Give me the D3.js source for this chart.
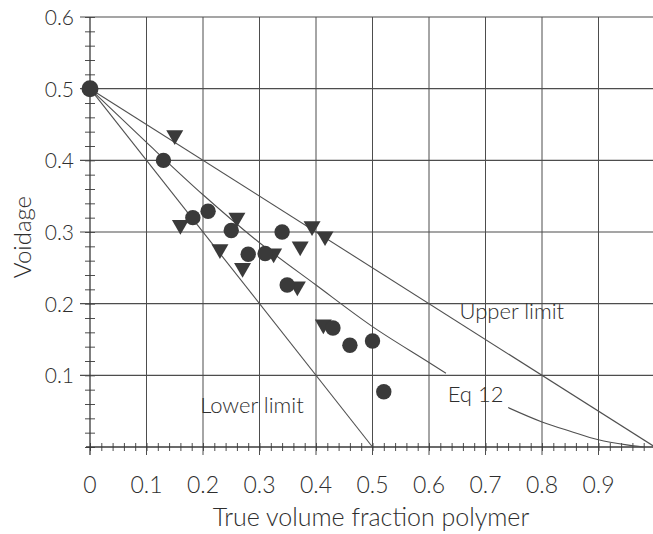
<!DOCTYPE html>
<html>
<head>
<meta charset="utf-8">
<script src="https://cdn.jsdelivr.net/npm/d3@7"></script>
<style>
  body { margin: 0; background: #fff; }
  svg text { font-family: Lato, "Open Sans", sans-serif; font-weight: 300; fill: #2e2e2e; }
</style>
</head>
<body>
<svg id="svg"></svg>
<script>
// chart data

const xTickLabels = ["0", "0.1", "0.2", "0.3", "0.4", "0.5", "0.6", "0.7", "0.8", "0.9"];
const yTickLabels = ["0.1", "0.2", "0.3", "0.4", "0.5", "0.6"];

// filled circles
const circleX = [0, 0.13, 0.182, 0.209, 0.25, 0.28, 0.31, 0.34, 0.349, 0.43, 0.46, 0.50, 0.52];
const circleY = [0.5, 0.40, 0.32, 0.329, 0.302, 0.269, 0.27, 0.30, 0.226, 0.166, 0.142, 0.148, 0.077];

// filled down triangles
const triX = [0.15, 0.16, 0.26, 0.23, 0.27, 0.325, 0.367, 0.372, 0.393, 0.416, 0.413];
const triY = [0.435, 0.31, 0.32, 0.276, 0.25, 0.27, 0.224, 0.28, 0.308, 0.294, 0.171];

// limit lines
const upperX = [0, 1];
const upperY = [0.5, 0];
const lowerX = [0, 0.5];
const lowerY = [0.5, 0];

// Eq 12 curve, drawn in two pieces around its label
const eqAX = [0, 0.1, 0.2, 0.3, 0.4, 0.5, 0.6, 0.63];
const eqAY = [0.5, 0.425, 0.352, 0.285, 0.226, 0.168, 0.118, 0.103];
const eqBX = [0.74, 0.8, 0.85, 0.9, 0.95, 0.98];
const eqBY = [0.055, 0.035, 0.022, 0.01, 0.003, 0];

const w = 653;
const h = 534;

const svg = d3.select("#svg")
  .attr("width", w)
  .attr("height", h);

const x = d3.scaleLinear().domain([0, 1]).range([90, 655]);
const y = d3.scaleLinear().domain([0, 0.6]).range([447, 17]);

const ink = "#3a3a3a";
const gridCol = "#4d4d4d";

// gridlines
svg.append("g")
  .selectAll("line")
  .data(yTickLabels)
  .join("line")
  .attr("x1", x(0) - 10)
  .attr("x2", w)
  .attr("y1", d => y(+d))
  .attr("y2", d => y(+d))
  .attr("stroke", gridCol)
  .attr("stroke-width", 1.2);

svg.append("g")
  .selectAll("line")
  .data(xTickLabels.slice(1))
  .join("line")
  .attr("x1", d => x(+d))
  .attr("x2", d => x(+d))
  .attr("y1", y(0.6))
  .attr("y2", y(0) + 8)
  .attr("stroke", gridCol)
  .attr("stroke-width", 1);

// axes with minor ticks
const yAxis = d3.axisLeft(y)
  .tickValues(y.ticks(30))
  .tickSizeInner(0)
  .tickSizeOuter(0)
  .tickFormat("");
const gy = svg.append("g").attr("transform", `translate(${x(0)},0)`).call(yAxis);
gy.select(".domain").remove();
gy.selectAll(".tick line")
  .attr("x1", -5).attr("x2", 5)
  .attr("stroke", gridCol);

const xAxis = d3.axisBottom(x)
  .tickValues(x.ticks(50))
  .tickSizeInner(0)
  .tickSizeOuter(0)
  .tickFormat("");
const gx = svg.append("g").attr("transform", `translate(0,${y(0)})`).call(xAxis);
gx.select(".domain").remove();
gx.selectAll(".tick line")
  .attr("y1", -4).attr("y2", 4)
  .attr("stroke", gridCol);

// axis lines
svg.append("line")
  .attr("x1", x(0)).attr("x2", x(0))
  .attr("y1", y(0.6)).attr("y2", y(0) + 8)
  .attr("stroke", ink).attr("stroke-width", 1.3);
svg.append("line")
  .attr("x1", x(0) - 4).attr("x2", w)
  .attr("y1", y(0)).attr("y2", y(0))
  .attr("stroke", ink).attr("stroke-width", 1.5);

// tick labels
svg.append("g")
  .selectAll("text")
  .data(yTickLabels)
  .join("text")
  .attr("x", x(0) - 16)
  .attr("y", d => y(+d) + 8)
  .attr("text-anchor", "end")
  .attr("font-size", 21)
  .text(d => d);

svg.append("g")
  .selectAll("text")
  .data(xTickLabels)
  .join("text")
  .attr("x", d => x(+d))
  .attr("y", 493)
  .attr("text-anchor", "middle")
  .attr("font-size", 23)
  .text(d => d);

// axis titles
svg.append("text")
  .attr("x", 371)
  .attr("y", 526)
  .attr("text-anchor", "middle")
  .attr("font-size", 25)
  .text("True volume fraction polymer");

svg.append("text")
  .attr("transform", "translate(31,237) rotate(-90)")
  .attr("text-anchor", "middle")
  .attr("font-size", 24)
  .text("Voidage");

// model lines
const line = d3.line().x(d => x(d[0])).y(d => y(d[1]));
const curve = d3.line().x(d => x(d[0])).y(d => y(d[1])).curve(d3.curveMonotoneX);

const lines = [
  [d3.zip(upperX, upperY), line],
  [d3.zip(lowerX, lowerY), line],
  [d3.zip(eqAX, eqAY), curve],
  [d3.zip(eqBX, eqBY), curve]
];
lines.forEach(function (l) {
  svg.append("path")
    .attr("d", l[1](l[0]))
    .attr("fill", "none")
    .attr("stroke", "#505050")
    .attr("stroke-width", 1.1);
});

// line labels
const labels = [
  ["Upper limit", 0.654, 0.178],
  ["Eq 12", 0.633, 0.063],
  ["Lower limit", 0.195, 0.048]
];
svg.append("g")
  .selectAll("text")
  .data(labels)
  .join("text")
  .attr("x", d => x(d[1]))
  .attr("y", d => y(d[2]))
  .attr("font-size", 22)
  .text(d => d[0]);

// markers
svg.append("g")
  .selectAll("path")
  .data(d3.zip(triX, triY))
  .join("path")
  .attr("d", d3.symbol().type(d3.symbolTriangle).size(125))
  .attr("transform", d => `translate(${x(d[0])},${y(d[1])}) rotate(180)`)
  .attr("fill", ink);

svg.append("g")
  .selectAll("circle")
  .data(d3.zip(circleX, circleY))
  .join("circle")
  .attr("cx", d => x(d[0]))
  .attr("cy", d => y(d[1]))
  .attr("r", (d, i) => i === 0 ? 8.5 : 7.7)
  .attr("fill", ink);
</script>
</body>
</html>
